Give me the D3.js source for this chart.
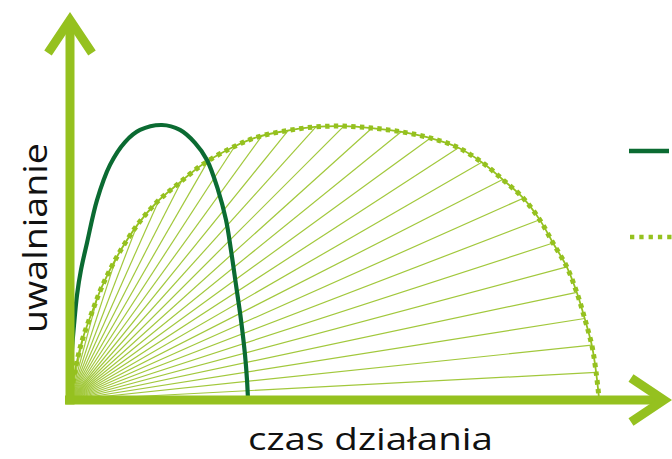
<!DOCTYPE html>
<html>
<head>
<meta charset="utf-8">
<script src="https://cdn.jsdelivr.net/npm/d3@7"></script>
<style>
  html, body { margin: 0; padding: 0; background: #fff; }
  svg { display: block; }
</style>
</head>
<body>
<svg id="chart" width="672" height="459"></svg>
<script>
// ---- data (units: time 0..100, release 0..100) ----
const fastTime    = [0, 0.33, 0.67, 1.17, 1.83, 2.83, 4.5, 6.67, 9.17, 11.67, 15.33, 18.33, 20.83, 22.83, 24.67, 26, 26.83, 27.67, 28.5, 29.17, 29.5, 29.67];
const fastRelease = [0, 18.2, 27.3, 38.2, 47.3, 57.1, 72.7, 85.5, 93.8, 98.2, 100, 98.2, 93.5, 87.3, 76.4, 65.5, 54.5, 41.8, 29.1, 16.4, 7.3, 0];

const slowTime    = [0, 1.2, 2.2, 3.8, 5.3, 7.8, 11.2, 14.5, 17.8, 22.2, 27.2, 31.2, 35.8, 40.8, 45.5, 50.3, 55.3, 60, 64.5, 68.8, 72.2, 75.5, 78.3, 80.5, 82.8, 84.5, 85.8, 87, 87.7, 88.2];
const slowRelease = [0, 14.5, 22.9, 32.7, 41.1, 52, 63.6, 72, 78.2, 85.8, 92, 95.6, 97.8, 99.3, 99.6, 98.9, 97.5, 95.3, 92, 86.2, 80, 73.5, 65.5, 57.1, 48.4, 38.9, 29.5, 19.6, 9.8, 0];

// hatch rays (degrees from the time axis)
const rayAngles = [3, 6, 9, 12, 15, 18, 21, 24, 27, 30, 33, 36, 39, 42, 45, 48, 51, 54, 57, 60, 63, 66, 69, 72, 75, 78, 81, 84, 87];

const xLabel = "czas działania";
const yLabel = "uwalnianie";

// ---- styles ----
const LIGHT = "#95c11f";
const RAY = "#a2c83c";
const DARK = "#0b6b32";

const svg = d3.select("#chart");
const x = d3.scaleLinear().domain([0, 100]).range([70, 670]);
const y = d3.scaleLinear().domain([0, 100]).range([400, 125]);

const fastData = fastTime.map((t, i) => [t, fastRelease[i]]);
const slowData = slowTime.map((t, i) => [t, slowRelease[i]]);

const line = d3.line()
  .x(d => x(d[0])).y(d => y(d[1]))
  .curve(d3.curveCatmullRom.alpha(0.5));

// slow curve path (used for geometry of rays as well)
const gRays = svg.append("g");
const slowBase = svg.append("path")
  .attr("d", line(slowData))
  .attr("fill", "none")
  .attr("stroke", LIGHT)
  .attr("stroke-width", 1.8);
svg.append("path")
  .attr("d", line(slowData))
  .attr("fill", "none")
  .attr("stroke", LIGHT)
  .attr("stroke-width", 5)
  .attr("stroke-dasharray", "4.4 4.3");

// rays from origin to slow curve
const ox = x(0), oy = y(0);
const node = slowBase.node();
const L = node.getTotalLength();
const samples = [];
for (let s = 2; s <= L; s += 0.5) {
  const p = node.getPointAtLength(s);
  const ang = Math.atan2(oy - p.y, p.x - ox) * 180 / Math.PI;
  samples.push({ x: p.x, y: p.y, a: ang });
}
rayAngles.forEach(a => {
  let hit = null;
  for (let i = samples.length - 1; i > 0; i--) {
    const s1 = samples[i - 1], s2 = samples[i];
    if (s1.a >= a && s2.a < a) {
      const t = (s1.a - a) / (s1.a - s2.a);
      hit = { x: s1.x + t * (s2.x - s1.x), y: s1.y + t * (s2.y - s1.y) };
      break;
    }
  }
  if (hit) {
    gRays.append("line")
      .attr("x1", ox).attr("y1", oy)
      .attr("x2", hit.x).attr("y2", hit.y)
      .attr("stroke", RAY)
      .attr("stroke-width", 1.2);
  }
});

// fast curve
svg.append("path")
  .attr("d", line(fastData))
  .attr("fill", "none")
  .attr("stroke", DARK)
  .attr("stroke-width", 4.2);

// axes with arrow heads
const axW = 9;
svg.append("line")
  .attr("x1", 65).attr("y1", y(0))
  .attr("x2", 664).attr("y2", y(0))
  .attr("stroke", LIGHT).attr("stroke-width", axW);
svg.append("line")
  .attr("x1", x(0)).attr("y1", y(0) + 4.5)
  .attr("x2", x(0)).attr("y2", 20)
  .attr("stroke", LIGHT).attr("stroke-width", axW);
svg.append("path")
  .attr("d", `M${x(0) - 22},53 L${x(0)},20 L${x(0) + 22},53`)
  .attr("fill", "none").attr("stroke", LIGHT)
  .attr("stroke-width", axW).attr("stroke-linejoin", "miter");
svg.append("path")
  .attr("d", `M631,${y(0) - 22} L664,${y(0)} L631,${y(0) + 22}`)
  .attr("fill", "none").attr("stroke", LIGHT)
  .attr("stroke-width", axW).attr("stroke-linejoin", "miter");

// axis titles
svg.append("text")
  .attr("x", 248).attr("y", 450)
  .attr("font-family", "Open Sans, sans-serif")
  .attr("font-size", 31)
  .attr("fill", "#111")
  .attr("textLength", 245)
  .attr("lengthAdjust", "spacingAndGlyphs")
  .text(xLabel);
svg.append("text")
  .attr("transform", "translate(47,238) rotate(-90)")
  .attr("text-anchor", "middle")
  .attr("font-family", "Open Sans, sans-serif")
  .attr("font-size", 33)
  .attr("fill", "#111")
  .attr("textLength", 190)
  .attr("lengthAdjust", "spacingAndGlyphs")
  .text(yLabel);

// legend (cut off at right edge)
svg.append("line")
  .attr("x1", 629).attr("y1", 151).attr("x2", 669).attr("y2", 151)
  .attr("stroke", DARK).attr("stroke-width", 4.5);
svg.append("line")
  .attr("x1", 630).attr("y1", 237).attr("x2", 672).attr("y2", 237)
  .attr("stroke", LIGHT).attr("stroke-width", 4.5)
  .attr("stroke-dasharray", "4.3 5");
</script>
</body>
</html>
